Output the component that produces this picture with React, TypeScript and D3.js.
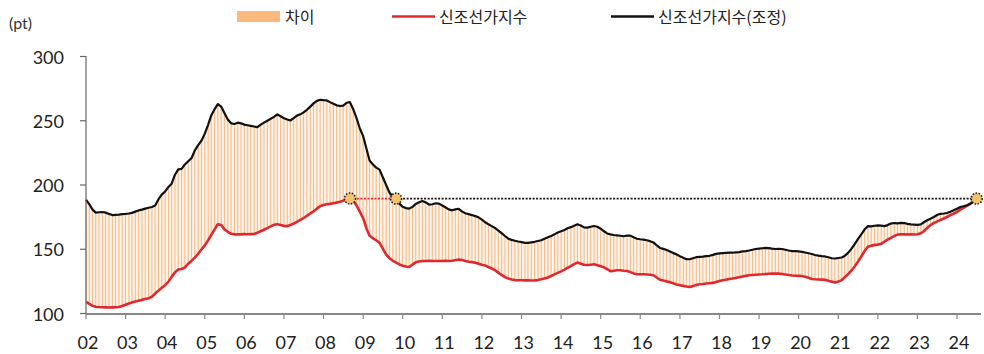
import * as d3 from "d3";

// 신조선가지수 (monthly, Jan 2002 ~ Jul 2024)
const cli = [
  109, 107.5, 106, 105.2, 105, 104.9, 104.8, 104.7, 104.8, 104.9, 105.1, 105.8,
  106.8, 107.8, 108.6, 109.3, 110, 110.6, 111.2, 111.8, 113, 115.5, 117.8, 120,
  122, 124.8, 128.5, 132, 134.3, 134.6, 135.8, 138.8, 141, 143.5, 146.5, 149.8,
  153, 157, 161, 165.5, 169.5, 168.8, 165.5, 163.6, 162, 161.6, 161.7, 161.6,
  161.8, 161.7, 161.8, 161.9, 162.8, 164, 165.2, 166.5, 167.8, 169, 169.4, 168.8,
  168.2, 168, 168.8, 170, 171.3, 172.8, 174.3, 176, 177.8, 179.5, 181.6, 183.5,
  184.5, 185, 185.3, 185.8, 186.3, 187, 187.8, 188.7, 189.5, 188, 184, 179.3,
  174, 166, 160.5, 158.5, 157, 155, 150.5, 145.8, 143, 141, 139.6, 138.2,
  137.2, 136.6, 136.2, 138, 139.8, 140.4, 140.8, 140.9, 141, 140.9, 140.8, 140.9,
  140.9, 141, 140.9, 141, 141.5, 142, 141.6, 140.9, 140.3, 140, 139.5, 138.8,
  138, 137.3, 136.2, 135, 133.7, 131.8, 130, 128.3, 127.2, 126.5, 126, 125.9,
  125.9, 125.8, 125.9, 125.7, 125.8, 126, 126.6, 127.3, 128, 129.2, 130.4, 131.6,
  132.8, 134.1, 135.5, 136.9, 138.4, 139.6, 138.8, 138, 137.7, 138, 138.3, 137.6,
  136.8, 135.9, 134.5, 133, 133.2, 133.6, 133.6, 133.3, 133.1, 132.2, 131.2, 130.5,
  130.5, 130.5, 130.4, 130.2, 129.8, 128, 126.3, 125.6, 125, 124.4, 123.5, 122.5,
  122, 121.5, 121, 120.7, 121.3, 122.2, 122.8, 123, 123.3, 123.6, 123.8, 124.5,
  125.3, 125.9, 126.3, 126.8, 127.2, 127.7, 128.2, 128.8, 129.3, 129.8, 130, 130.2,
  130.4, 130.5, 130.7, 130.9, 131, 131.1, 131, 130.7, 130.3, 129.9, 129.6, 129.4,
  129.3, 129.2, 128.6, 127.8, 126.9, 126.6, 126.5, 126.4, 126.2, 125.5, 124.8, 124.2,
  124.8, 126, 128.2, 130.5, 133.3, 136.6, 140.2, 144.4, 148.6, 152, 152.8, 153.2,
  153.6, 154.2, 155.8, 157.5, 158.8, 160.3, 161.4, 161.7, 161.6, 161.5, 161.6, 161.5,
  161.7, 162.4, 164, 166.5, 168.8, 170.3, 171.5, 172.8, 173.9, 175.1, 176.5, 177.7,
  179, 180.8, 182.2, 183.8, 185.5, 187.3, 189.4,
];

// 신조선가지수(조정)
const cliAdjusted = [
  188.6, 185, 181, 178.5, 178.8, 179, 178.5, 177.5, 176.6, 176.8, 177, 177.3,
  177.5, 177.8, 178.3, 179.3, 180.2, 180.8, 181.6, 182.3, 182.9, 184, 189, 192.5,
  195, 198.5, 201, 208, 212.2, 212.6, 216, 218.5, 221, 227, 231, 234.5,
  240, 247, 254, 259, 263, 261, 256, 251, 248, 247.5, 248.5, 248,
  247, 246.5, 246, 245.5, 245, 247, 248.5, 250, 251.5, 253, 255, 253.5,
  252, 251, 250.2, 252, 254, 255, 256.5, 258.5, 261, 263.5, 265.5, 266.3,
  266, 265.8, 264.5, 263.2, 262, 261.5, 261.8, 264, 264.5, 259, 252, 244,
  238, 228, 219, 216, 213.5, 212, 206, 200, 194, 191, 188.3, 185.5,
  183, 182, 181.6, 183, 185.3, 186.5, 187.5, 186.5, 184.8, 185, 185.8, 185.5,
  184, 182.5, 181, 180.3, 181, 181.5, 179.5, 178, 177.3, 176.6, 175.8, 174.8,
  173, 171, 169.5, 168, 166.6, 164.5, 162.5, 160.3, 158.2, 157.3, 156.6, 156,
  155.5, 155, 154.9, 155.3, 155.8, 156.4, 157, 158.2, 159.3, 160.3, 161.6, 163,
  164, 165, 166.3, 167.2, 168.3, 169.4, 168.5, 167, 166.8, 167.5, 168.1, 167.5,
  166, 164, 162.3, 161.6, 161.1, 160.8, 160.5, 160.1, 160.7, 160.6, 159.3, 158.2,
  157.8, 157.5, 157, 156.3, 155.3, 153, 151, 150.3, 149.4, 148.3, 147, 146,
  144.5, 143.3, 142.3, 142.2, 143, 143.8, 144, 144.2, 144.6, 144.9, 145.6, 146.4,
  146.8, 147, 147.2, 147.4, 147.3, 147.6, 147.8, 148.3, 148.6, 149, 149.6, 150.2,
  150.5, 150.8, 151, 150.9, 150.5, 150.2, 150.4, 150.2, 149.6, 149, 148.6, 148.5,
  148.4, 148, 147.5, 146.9, 146.3, 145.5, 145, 144.6, 144.4, 143.8, 143, 142.8,
  143.2, 143.6, 144.8, 147.2, 150.2, 154, 157.8, 161.5, 165.5, 168, 167.8, 168.3,
  168.6, 168.4, 168, 168.8, 170, 170.4, 170.2, 170.5, 170.4, 169.8, 169.3, 169.2,
  169, 169.3, 171, 172.6, 173.8, 175.1, 176.6, 177.6, 177.8, 178.2, 179.2, 180.3,
  181.6, 182.9, 183.5, 184.2, 185.3, 187, 189.4,
];

const yearLabels = [
  "02", "03", "04", "05", "06", "07", "08", "09", "10", "11", "12", "13",
  "14", "15", "16", "17", "18", "19", "20", "21", "22", "23", "24",
];
const yTicks = [100, 150, 200, 250, 300];

const WIDTH = 984;
const HEIGHT = 354;
const NUM_FONT = "Lato, 'Noto Sans', sans-serif";
const KR_FONT = "'Noto Sans CJK KR', 'Noto Sans', sans-serif";
const RED = "#e0282e";

export default function App() {
  const dates = cli.map((_, i) => new Date(2002, i, 1));

  const x = d3
    .scaleTime()
    .domain([new Date(2002, 0, 1), new Date(2024, 0, 1)])
    .range([86, 957]);
  const y = d3.scaleLinear().domain([100, 300]).range([313.5, 56.5]);

  const lineCli = d3
    .line<number>()
    .x((_, i) => x(dates[i]))
    .y((d) => y(d));
  const area = d3
    .area<number>()
    .x((_, i) => x(dates[i]))
    .y0((_, i) => y(cli[i]))
    .y1((d) => y(d));

  // reference level: latest value
  const last = cli.length - 1;
  const level = cli[last];
  let peakIdx = 72;
  for (let i = 72; i < 84; i++) if (cli[i] > cli[peakIdx]) peakIdx = i;
  let crossIdx = peakIdx;
  while (crossIdx < last && cliAdjusted[crossIdx] > level) crossIdx++;

  const markers = [
    [x(dates[peakIdx]), y(cli[peakIdx])],
    [x(dates[crossIdx]), y(level)],
    [x(dates[last]), y(level)],
  ];

  const yearTicks = yearLabels.map((lab, i) => ({
    lab,
    x: x(new Date(2002 + i, 0, 1)),
  }));

  return (
    <svg
      width={WIDTH}
      height={HEIGHT}
      style={{ position: "absolute", left: 0, top: 0, background: "#fff" }}
    >
      {/* legend */}
      <text x={9} y={22} fontSize={16} fontFamily={NUM_FONT} fill="#333" dominantBaseline="central">
        (pt)
      </text>
      <rect x={237} y={11} width={43} height={11} fill="#fbb97e" />
      <text x={285} y={16} fontSize={16} fontFamily={KR_FONT} fill="#222" dominantBaseline="central">
        차이
      </text>
      <line x1={392} x2={435} y1={16.5} y2={16.5} stroke={RED} strokeWidth={2.5} />
      <text x={439} y={16} fontSize={16} fontFamily={KR_FONT} fill="#222" dominantBaseline="central">
        신조선가지수
      </text>
      <line x1={611} x2={654} y1={16.5} y2={16.5} stroke="#111" strokeWidth={2.5} />
      <text x={658} y={16} fontSize={16} fontFamily={KR_FONT} fill="#222" dominantBaseline="central">
        신조선가지수(조정)
      </text>

      {/* gap fill */}
      <path d={area(cliAdjusted) ?? ""} fill="#fdf3e8" />
      {cliAdjusted.map((d, i) => (
        <rect
          key={i}
          x={x(dates[i]) - 0.55}
          width={1.1}
          y={y(d)}
          height={Math.max(0, y(cli[i]) - y(d))}
          fill="#f4bd8b"
        />
      ))}

      {/* reference dotted line */}
      <line
        x1={markers[0][0]}
        x2={markers[1][0]}
        y1={y(level)}
        y2={y(level)}
        stroke={RED}
        strokeWidth={1.6}
        strokeDasharray="2,1.5"
      />
      <line
        x1={markers[1][0]}
        x2={markers[2][0]}
        y1={y(level)}
        y2={y(level)}
        stroke="#111"
        strokeWidth={1.6}
        strokeDasharray="2,1.5"
      />

      {/* lines */}
      <path d={lineCli(cli) ?? ""} fill="none" stroke={RED} strokeWidth={2.6} strokeLinejoin="round" />
      <path d={lineCli(cliAdjusted) ?? ""} fill="none" stroke="#111" strokeWidth={2.2} strokeLinejoin="round" />

      {markers.map(([mx, my], i) => (
        <circle
          key={i}
          cx={mx}
          cy={my}
          r={5.5}
          fill="#f2c46e"
          stroke="#222"
          strokeWidth={1.5}
          strokeDasharray="1.6,1.4"
        />
      ))}

      {/* y axis */}
      <line x1={86} x2={86} y1={56} y2={314} stroke="#666" strokeWidth={1.2} />
      {yTicks.map((t) => (
        <g key={t}>
          <line x1={80} x2={86} y1={y(t)} y2={y(t)} stroke="#666" strokeWidth={1.2} />
          <text
            x={64}
            y={y(t)}
            textAnchor="end"
            dominantBaseline="central"
            fontSize={18}
            fontFamily={NUM_FONT}
            fill="#222"
          >
            {t}
          </text>
        </g>
      ))}

      {/* x axis */}
      <line x1={86} x2={981} y1={314} y2={314} stroke="#888" strokeWidth={2} />
      {yearTicks.map((t) => (
        <g key={t.lab}>
          <line x1={t.x} x2={t.x} y1={314} y2={319} stroke="#888" strokeWidth={1.2} />
          <text
            x={t.x + 2}
            y={342}
            textAnchor="middle"
            dominantBaseline="central"
            fontSize={18}
            fontFamily={NUM_FONT}
            fill="#222"
          >
            {t.lab}
          </text>
        </g>
      ))}
    </svg>
  );
}
